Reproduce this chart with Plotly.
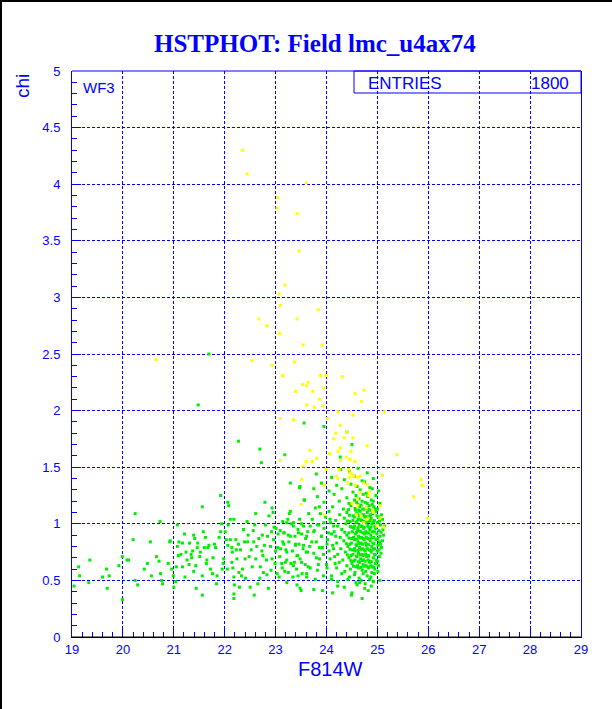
import plotly.graph_objects as go

# ---------------- data ----------------
x_ticks = [19, 20, 21, 22, 23, 24, 25, 26, 27, 28, 29]
y_ticks = [0, 0.5, 1, 1.5, 2, 2.5, 3, 3.5, 4, 4.5, 5]
y_tick_text = ["0", "0.5", "1", "1.5", "2", "2.5", "3", "3.5", "4", "4.5", "5"]

# green points: brighter field stars (F814W, chi)
green_field = [
    (19.04,0.45),(19.13,0.62),(19.15,0.54),(19.33,0.48),(19.35,0.68),(19.60,0.53),(19.68,0.60),
    (19.69,0.43),(19.73,0.54),(19.92,0.63),(19.99,0.71),(19.99,0.33),(20.08,0.68),(20.11,0.68),
    (20.20,0.86),(20.24,1.09),(20.24,0.50),(20.29,0.46),(20.42,0.60),(20.48,0.65),(20.54,0.84),
    (20.56,0.54),(20.66,0.71),(20.71,0.67),(20.73,1.02),(20.74,0.56),(20.76,0.50),(20.78,0.47),
    (20.89,0.65),(20.92,0.84),(20.93,0.85),(20.96,0.60),(20.99,0.54),(21.00,0.44),(21.04,0.49),
    (21.05,0.62),(21.07,0.99),(21.07,0.80),(21.09,0.72),(21.10,0.84),(21.14,0.73),(21.17,0.62),
    (21.17,0.83),(21.21,0.91),(21.22,0.53),(21.24,0.75),(21.26,0.68),(21.30,0.64),(21.31,0.83),
    (21.34,0.73),(21.35,0.70),(21.37,0.76),(21.39,0.90),(21.39,0.58),(21.41,0.87),(21.43,0.63),
    (21.44,0.43),(21.46,0.79),(21.47,0.83),(21.51,0.71),(21.52,0.75),(21.56,1.15),(21.56,0.54),
    (21.56,0.37),(21.58,0.93),(21.60,0.79),(21.62,0.88),(21.64,0.65),(21.65,0.68),(21.67,0.79),
    (21.69,0.81),(21.72,0.60),(21.76,0.56),(21.77,0.70),(21.80,0.82),(21.82,0.79),(21.84,0.47),
    (21.85,0.54),(21.89,0.88),(21.92,1.25),(21.92,0.93),(21.94,1.00),(21.95,0.60),(21.97,0.65),
    (21.98,0.69),(22.01,0.93),(22.03,0.86),(22.05,0.60),(22.06,1.19),(22.06,0.81),(22.07,0.99),
    (22.08,1.16),(22.11,1.04),(22.11,0.86),(22.14,0.79),(22.14,0.66),(22.15,0.75),(22.16,0.61),
    (22.18,1.04),(22.18,0.53),(22.18,0.38),(22.18,0.34),(22.19,0.46),(22.22,0.86),(22.23,0.77),
    (22.24,0.69),(22.27,0.82),(22.28,0.57),(22.29,0.44),(22.31,0.77),(22.33,0.54),(22.35,0.60),
    (22.37,0.95),(22.39,0.84),(22.40,0.69),(22.41,0.52),(22.44,1.02),(22.45,0.84),(22.46,0.90),
    (22.48,0.71),(22.50,0.44),(22.52,0.77),(22.54,0.62),(22.56,0.94),(22.57,0.84),(22.58,0.37),
    (22.59,0.99),(22.61,1.09),(22.61,0.69),(22.63,0.80),(22.65,0.47),(22.67,0.87),(22.69,0.52),
    (22.70,0.62),(22.73,0.76),(22.74,0.90),(22.75,0.72),(22.76,0.57),(22.78,0.81),(22.79,1.19),
    (22.80,0.99),(22.82,0.68),(22.83,0.55),(22.84,0.89),(22.86,0.43),(22.87,1.07),(22.90,0.80),
    (22.91,0.59),(22.92,0.93),(22.93,1.14),(22.93,0.69),(22.95,1.10),(22.96,0.86),(22.97,0.97),
    (22.99,0.65),(23.00,0.76),(23.01,0.96),(23.03,0.56),(23.04,0.79),(23.05,0.91),(23.07,0.53),
    (23.08,0.71),(23.09,0.94),(23.10,0.78),(23.12,0.65),(23.13,0.61),(23.14,1.02),(23.16,0.82),
    (23.17,0.92),(23.18,0.58),(23.20,0.77),(23.22,0.68),(23.24,1.04),(23.25,0.90),(23.26,0.84),
    (23.27,1.09),(23.29,1.36),(23.30,0.65),(23.31,1.00),(23.33,0.76),(23.34,0.53),(23.35,0.98),
    (23.37,0.66),(23.38,0.89),(23.39,0.81),(23.41,0.60),(23.42,0.46),(23.43,0.72),(23.44,0.95),
    (23.46,0.82),(23.47,1.32),(23.47,1.04),(23.48,0.69),(23.50,0.41),(23.51,0.91),(23.52,0.56),
    (23.54,0.78),(23.55,0.98),(23.56,1.21),(23.58,0.64),(23.59,0.87),(23.60,0.75),(23.61,0.53),
    (23.63,0.93),(23.64,0.62),(23.65,1.09),(23.67,0.80),
    (22.69,1.66),(22.72,1.54),(23.18,1.61),(21.69,2.50),(21.48,2.05),(22.27,1.73),
    (23.56,1.89),(23.95,1.86),(24.40,1.81),(24.50,1.70),(24.27,1.59),(23.48,1.33),(23.57,1.21),
    (23.80,1.44),(23.75,1.31),(23.29,1.11),(23.86,1.15),(23.22,1.01),(23.35,1.01),(23.51,1.00),
    (23.68,0.98),(23.82,0.99),(23.95,1.01),(24.07,1.04),(24.14,0.98),(23.16,0.92),(23.29,0.89),
    (23.45,0.92),(23.61,0.89),(23.75,0.93),(23.90,0.89),(24.04,0.92),(24.18,0.89),(23.14,0.84),
    (23.39,0.82),(23.55,0.81),(23.71,0.84),(23.86,0.79),(24.01,0.82),(24.14,0.78),(23.22,0.75),
    (23.42,0.72),(23.63,0.75),(23.80,0.70),(23.94,0.73),(24.07,0.69),(23.19,0.66),(23.35,0.63),
    (23.51,0.66),(23.68,0.61),(23.84,0.64),(24.01,0.61),(24.17,0.65),(23.25,0.57),(23.44,0.54),
    (23.61,0.56),(23.78,0.51),(23.94,0.54),(24.10,0.51),(23.22,0.48),(23.48,0.43),(23.75,0.42),
    (23.92,0.41),(24.12,0.39),(24.22,0.45),(24.49,0.37),(24.65,0.48),
]

# green points: dense clump at the faint end
green_clump = [
    (24.28,1.48),(24.45,1.46),(24.62,1.49),(24.80,1.45),
    (24.10,1.41),(24.35,1.39),(24.55,1.42),(24.70,1.38),(24.92,1.40),
    (23.90,1.36),(24.20,1.34),(24.48,1.35),(24.60,1.33),(24.75,1.37),(24.85,1.32),
    (24.05,1.29),(24.30,1.31),(24.52,1.28),(24.66,1.30),(24.78,1.27),(24.90,1.31),(25.02,1.29),
    (23.82,1.24),(24.15,1.26),(24.40,1.23),(24.58,1.25),(24.64,1.22),(24.72,1.26),(24.81,1.24),
    (24.88,1.21),(24.97,1.25),
    (23.95,1.19),(24.25,1.20),(24.44,1.18),(24.55,1.21),(24.62,1.17),(24.70,1.20),(24.76,1.19),
    (24.84,1.16),(24.92,1.20),(25.05,1.18),
    (23.78,1.14),(24.12,1.15),(24.33,1.13),(24.48,1.16),(24.57,1.12),(24.65,1.15),(24.71,1.13),
    (24.79,1.14),(24.86,1.12),(24.93,1.15),(25.00,1.13),
    (23.88,1.09),(24.05,1.11),(24.26,1.08),(24.40,1.10),(24.52,1.07),(24.60,1.09),(24.66,1.11),
    (24.73,1.08),(24.80,1.10),(24.85,1.07),(24.91,1.09),(24.97,1.11),(25.08,1.08),
    (23.72,1.04),(23.98,1.06),(24.18,1.03),(24.35,1.05),(24.46,1.02),(24.55,1.06),(24.62,1.04),
    (24.69,1.03),(24.75,1.06),(24.82,1.02),(24.88,1.05),(24.94,1.03),(25.02,1.06),(25.10,1.04),
    (23.85,0.99),(24.08,1.01),(24.22,0.98),(24.38,1.00),(24.50,0.97),(24.58,1.01),(24.64,0.99),
    (24.70,0.98),(24.77,1.01),(24.83,0.97),(24.89,1.00),(24.95,0.98),(25.00,1.01),(25.06,0.99),
    (25.14,0.98),
    (23.76,0.94),(23.95,0.96),(24.15,0.93),(24.30,0.95),(24.44,0.92),(24.54,0.96),(24.61,0.94),
    (24.67,0.93),(24.73,0.96),(24.79,0.92),(24.85,0.95),(24.90,0.93),(24.96,0.96),(25.03,0.94),
    (25.11,0.95),
    (23.90,0.89),(24.10,0.91),(24.27,0.88),(24.40,0.90),(24.49,0.87),(24.57,0.91),(24.63,0.89),
    (24.69,0.88),(24.75,0.91),(24.81,0.87),(24.87,0.90),(24.93,0.88),(24.99,0.91),(25.05,0.89),
    (25.12,0.90),
    (23.80,0.84),(24.02,0.86),(24.20,0.83),(24.34,0.85),(24.46,0.82),(24.55,0.86),(24.62,0.84),
    (24.68,0.83),(24.74,0.86),(24.80,0.82),(24.86,0.85),(24.91,0.83),(24.97,0.86),(25.04,0.84),
    (25.10,0.85),
    (23.92,0.79),(24.12,0.81),(24.28,0.78),(24.42,0.80),(24.51,0.77),(24.59,0.81),(24.65,0.79),
    (24.71,0.78),(24.78,0.81),(24.84,0.77),(24.89,0.80),(24.95,0.78),(25.01,0.81),(25.08,0.79),
    (23.75,0.74),(24.05,0.76),(24.22,0.73),(24.37,0.75),(24.48,0.72),(24.56,0.76),(24.63,0.74),
    (24.70,0.73),(24.76,0.76),(24.82,0.72),(24.88,0.75),(24.94,0.73),(25.00,0.76),(25.07,0.74),
    (23.86,0.69),(24.16,0.71),(24.32,0.68),(24.44,0.70),(24.53,0.67),(24.60,0.71),(24.67,0.69),
    (24.73,0.68),(24.79,0.71),(24.85,0.67),(24.92,0.70),(24.98,0.68),(25.04,0.71),
    (24.00,0.64),(24.25,0.66),(24.40,0.63),(24.50,0.65),(24.58,0.62),(24.65,0.66),(24.72,0.64),
    (24.78,0.63),(24.84,0.66),(24.90,0.62),(24.96,0.65),(25.02,0.63),
    (23.82,0.59),(24.20,0.61),(24.36,0.58),(24.47,0.60),(24.56,0.57),(24.63,0.61),(24.70,0.59),
    (24.77,0.58),(24.83,0.61),(24.89,0.57),(24.95,0.60),(25.01,0.58),
    (24.10,0.54),(24.30,0.56),(24.45,0.53),(24.55,0.55),(24.64,0.52),(24.72,0.56),(24.80,0.54),
    (24.87,0.53),(24.94,0.56),
    (24.22,0.49),(24.42,0.51),(24.58,0.48),(24.68,0.50),(24.76,0.47),(24.85,0.51),(24.92,0.49),
    (25.05,0.50),
    (24.35,0.44),(24.60,0.46),(24.75,0.43),(24.88,0.45),(24.50,0.39),(24.82,0.41),(24.70,0.34),
    (24.47,1.175),(24.59,1.19),(24.68,1.165),(24.80,1.18),(24.90,1.17),
    (24.43,1.125),(24.56,1.135),(24.63,1.12),(24.76,1.13),(24.83,1.125),(24.95,1.13),
    (24.45,1.075),(24.58,1.085),(24.64,1.07),(24.71,1.08),(24.78,1.065),(24.87,1.08),(24.99,1.07),
    (24.41,1.025),(24.52,1.03),(24.60,1.02),(24.67,1.035),(24.73,1.02),(24.86,1.03),(24.92,1.015),
    (25.04,1.025),
    (24.47,0.975),(24.55,0.98),(24.62,0.965),(24.68,0.975),(24.74,0.97),(24.81,0.985),(24.87,0.97),
    (24.98,0.975),
    (24.36,0.925),(24.51,0.93),(24.59,0.925),(24.66,0.935),(24.72,0.92),(24.77,0.93),(24.83,0.92),
    (24.94,0.93),(25.07,0.925),
    (24.44,0.875),(24.53,0.88),(24.60,0.865),(24.66,0.875),(24.72,0.87),(24.78,0.88),(24.84,0.865),
    (24.89,0.875),(25.01,0.87),
    (24.39,0.825),(24.49,0.83),(24.58,0.815),(24.65,0.825),(24.71,0.82),(24.77,0.83),(24.83,0.815),
    (24.93,0.825),(25.06,0.82),
    (24.46,0.775),(24.55,0.78),(24.62,0.765),(24.68,0.775),(24.74,0.77),(24.80,0.78),(24.86,0.765),
    (24.91,0.775),(25.03,0.77),
    (24.41,0.725),(24.52,0.73),(24.59,0.715),(24.66,0.725),(24.72,0.72),(24.77,0.73),(24.83,0.715),
    (24.96,0.725),
    (24.48,0.675),(24.56,0.68),(24.63,0.665),(24.70,0.675),(24.76,0.67),(24.82,0.68),(24.88,0.665),
    (25.00,0.67),
    (24.53,0.625),(24.61,0.63),(24.68,0.615),(24.74,0.625),(24.81,0.62),(24.87,0.63),(24.93,0.615),
]

# yellow points: high-chi objects
yellow_pts = [
    (22.35,4.30),(22.44,4.09),(23.60,4.01),(23.04,3.88),(23.03,3.79),(23.42,3.74),(23.46,3.41),
    (23.18,3.11),(23.07,3.03),(23.10,2.93),(23.84,2.89),(22.67,2.81),(23.42,2.81),(22.83,2.75),
    (23.08,2.68),(23.54,2.58),(23.92,2.58),(22.54,2.44),(22.93,2.40),(23.37,2.43),(23.14,2.31),
    (23.88,2.31),(23.99,2.31),(24.31,2.30),(20.65,2.45),
    (23.53,2.23),(23.61,2.22),(23.64,2.25),(23.39,2.17),(23.73,2.17),(23.95,2.20),(23.86,2.10),
    (23.76,2.03),(23.93,2.04),(23.61,2.05),(24.56,2.15),(24.74,2.18),(24.69,2.08),(24.23,1.99),
    (24.52,1.96),(25.14,1.99),(23.09,1.93),(23.35,1.92),(24.02,1.93),(24.27,1.87),(24.18,1.80),
    (24.40,1.81),(24.14,1.75),(24.35,1.76),(24.52,1.76),(24.80,1.69),(24.27,1.67),(24.23,1.64),
    (24.06,1.62),(24.48,1.64),(24.46,1.57),(24.39,1.59),(24.56,1.55),(24.28,1.56),(23.60,1.55),
    (23.72,1.55),(23.81,1.58),(23.67,1.65),(25.38,1.61),(23.09,1.56),(23.54,1.51),(23.99,1.48),
    (24.25,1.48),(24.44,1.48),(24.46,1.45),(24.50,1.44),(24.54,1.42),(24.45,1.41),(24.61,1.41),
    (24.66,1.42),(24.19,1.42),(24.22,1.40),(24.42,1.36),(24.57,1.34),(24.73,1.36),(24.80,1.35),
    (25.10,1.43),(25.86,1.39),(25.88,1.34),(25.71,1.24),(23.96,1.34),(23.51,1.39),(24.66,1.28),
    (24.84,1.28),(24.61,1.22),(24.50,1.18),(24.61,1.16),(24.78,1.14),(24.83,1.25),(24.91,1.12),
    (25.05,1.16),(24.59,1.08),(24.68,1.07),(24.80,1.04),(25.05,1.05),(25.13,0.97),(24.99,0.98),
    (24.73,1.01),(24.92,1.10),(23.50,1.17),(23.96,1.08),(25.99,1.05),
]

# ---------------- layout constants ----------------
W, H = 612, 709
ML, MR, MT, MB = 72, 31, 71, 72
PW, PH = W - ML - MR, H - MT - MB
BLUE = "#0000ff"
SANS = "Liberation Sans"


def px(xp):
    return (xp - ML) / PW


def py(yp):
    return (H - MB - yp) / PH


fig = go.Figure()
for pts, col in [(green_field, "#00ee00"), (green_clump, "#00ee00"), (yellow_pts, "#ffff00")]:
    fig.add_trace(go.Scatter(
        x=[p[0] for p in pts], y=[p[1] for p in pts], mode="markers",
        marker=dict(symbol="square", size=3, color=col, line=dict(width=0)),
        showlegend=False, hoverinfo="skip"))

fig.update_layout(
    width=W, height=H, margin=dict(l=ML, r=MR, t=MT, b=MB),
    paper_bgcolor="white", plot_bgcolor="white", showlegend=False,
    xaxis=dict(range=[19, 29], tickvals=x_ticks, ticks="inside", ticklen=9, tickcolor=BLUE,
               tickwidth=1, showline=True, linecolor="black", linewidth=1, mirror=False,
               showgrid=True, gridcolor=BLUE, gridwidth=1, griddash="3px,2px", zeroline=False,
               tickfont=dict(family=SANS, size=13, color=BLUE),
               minor=dict(dtick=0.2, ticks="inside", ticklen=5, tickcolor=BLUE, showgrid=False)),
    yaxis=dict(range=[0, 5], tickvals=y_ticks, ticktext=y_tick_text, ticks="inside", ticklen=9,
               tickcolor=BLUE, tickwidth=1, showline=True, linecolor=BLUE, linewidth=1, mirror=True,
               showgrid=True, gridcolor=BLUE, gridwidth=1, griddash="3px,2px", zeroline=False,
               ticklabelstandoff=8,
               tickfont=dict(family=SANS, size=13, color=BLUE),
               minor=dict(dtick=0.1, ticks="inside", ticklen=5, tickcolor=BLUE, showgrid=False)),
)

shapes = [
    dict(type="line", xref="paper", yref="paper", x0=0, x1=1, y0=1, y1=1,
         line=dict(color=BLUE, width=1)),
    dict(type="line", xref="paper", yref="paper", x0=0, x1=1, y0=0, y1=0,
         line=dict(color="black", width=1)),
    dict(type="rect", xref="paper", yref="paper", x0=px(354), x1=1, y0=py(93), y1=1,
         line=dict(color=BLUE, width=1), fillcolor="rgba(0,0,0,0)"),
    dict(type="rect", xref="paper", yref="paper", x0=px(0), x1=px(2), y0=py(H), y1=py(0),
         line=dict(width=0), fillcolor="black"),
    dict(type="rect", xref="paper", yref="paper", x0=px(0), x1=px(W), y0=py(2), y1=py(0),
         line=dict(width=0), fillcolor="black"),
]
fig.update_layout(shapes=shapes)

ann = [
    dict(text="<b>HSTPHOT: Field lmc_u4ax74</b>", x=px(315), y=py(43), xanchor="center",
         yanchor="middle", font=dict(family="Liberation Serif", size=25, color=BLUE)),
    dict(text="F814W", x=px(330), y=py(669), xanchor="center", yanchor="middle",
         font=dict(family=SANS, size=20, color=BLUE)),
    dict(text="chi", x=px(23), y=py(86), xanchor="center", yanchor="middle", textangle=-90,
         font=dict(family=SANS, size=19, color=BLUE)),
    dict(text="WF3", x=px(99), y=py(87.5), xanchor="center", yanchor="middle",
         font=dict(family=SANS, size=15, color=BLUE)),
    dict(text="ENTRIES", x=px(366), y=py(83), xanchor="left", yanchor="middle",
         font=dict(family=SANS, size=17, color=BLUE)),
    dict(text="1800", x=px(571), y=py(83), xanchor="right", yanchor="middle",
         font=dict(family=SANS, size=17, color=BLUE)),
]
for a in ann:
    a.update(xref="paper", yref="paper", showarrow=False)
fig.update_layout(annotations=ann)

fig.write_html("out.html", config={"displayModeBar": False},
               post_script="document.body.style.margin='0';document.body.style.overflow='hidden';"
                           "window.scrollTo(0,0);")
